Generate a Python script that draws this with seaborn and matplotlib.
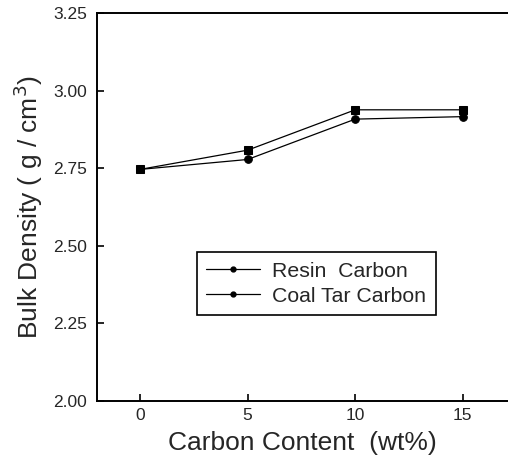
import matplotlib
matplotlib.use("Agg")
import matplotlib.pyplot as plt
import seaborn as sns
import pandas as pd
from matplotlib.lines import Line2D

carbon_content = [0, 5, 10, 15]
resin_carbon = [2.746, 2.808, 2.938, 2.938]
coal_tar_carbon = [2.746, 2.778, 2.908, 2.916]
series_names = ["Resin  Carbon", "Coal Tar Carbon"]
y_ticks = [2.00, 2.25, 2.50, 2.75, 3.00, 3.25]
y_tick_labels = ["2.00", "2.25", "2.50", "2.75", "3.00", "3.25"]
x_ticks = [0, 5, 10, 15]

df = pd.DataFrame({
    "x": carbon_content * 2,
    "y": resin_carbon + coal_tar_carbon,
    "series": [series_names[0]] * 4 + [series_names[1]] * 4,
})

sns.set_style("white")
plt.rcParams["font.family"] = ["Liberation Sans", "DejaVu Sans"]

fig = plt.figure(figsize=(5.08, 4.63), dpi=100)
ax = fig.add_axes([0.191, 0.134, 0.809, 0.838])

sns.lineplot(data=df, x="x", y="y", hue="series", style="series",
             palette=["black", "black"], markers=["s", "o"], dashes=False,
             markersize=5.5, markeredgecolor="black", linewidth=0.9,
             legend=False, ax=ax)

ax.set_xlim(-2, 17.1)
ax.set_ylim(2.0, 3.25)
ax.set_xticks(x_ticks)
ax.set_xticklabels([str(v) for v in x_ticks], fontsize=12.5)
ax.set_yticks(y_ticks)
ax.set_yticklabels(y_tick_labels, fontsize=12.5)
ax.tick_params(direction="in", length=5, width=1.2, color="black",
               left=True, bottom=True)
ax.tick_params(axis="y", pad=7)
ax.tick_params(axis="x", pad=5)
for s in ["left", "bottom", "top"]:
    ax.spines[s].set_visible(True)
    ax.spines[s].set_color("black")
    ax.spines[s].set_linewidth(1.4)
ax.spines["right"].set_visible(False)

ax.set_xlabel("Carbon Content  (wt%)", fontsize=19, labelpad=6)
ax.set_ylabel("Bulk Density ( g / cm$^3$)", fontsize=19, labelpad=6)

handles = [Line2D([], [], color="black", lw=0.9, marker="o", markersize=3.5)
           for _ in series_names]
leg = ax.legend(handles, series_names, loc="upper left",
                bbox_to_anchor=(0.243, 0.384), borderaxespad=0,
                fontsize=15.3, frameon=True,
                fancybox=False, framealpha=1, edgecolor="black",
                handlelength=2.5, handletextpad=0.6, borderpad=0.45,
                labelspacing=0.3)
leg.get_frame().set_linewidth(1.2)

fig.savefig("out.png", dpi=100)
